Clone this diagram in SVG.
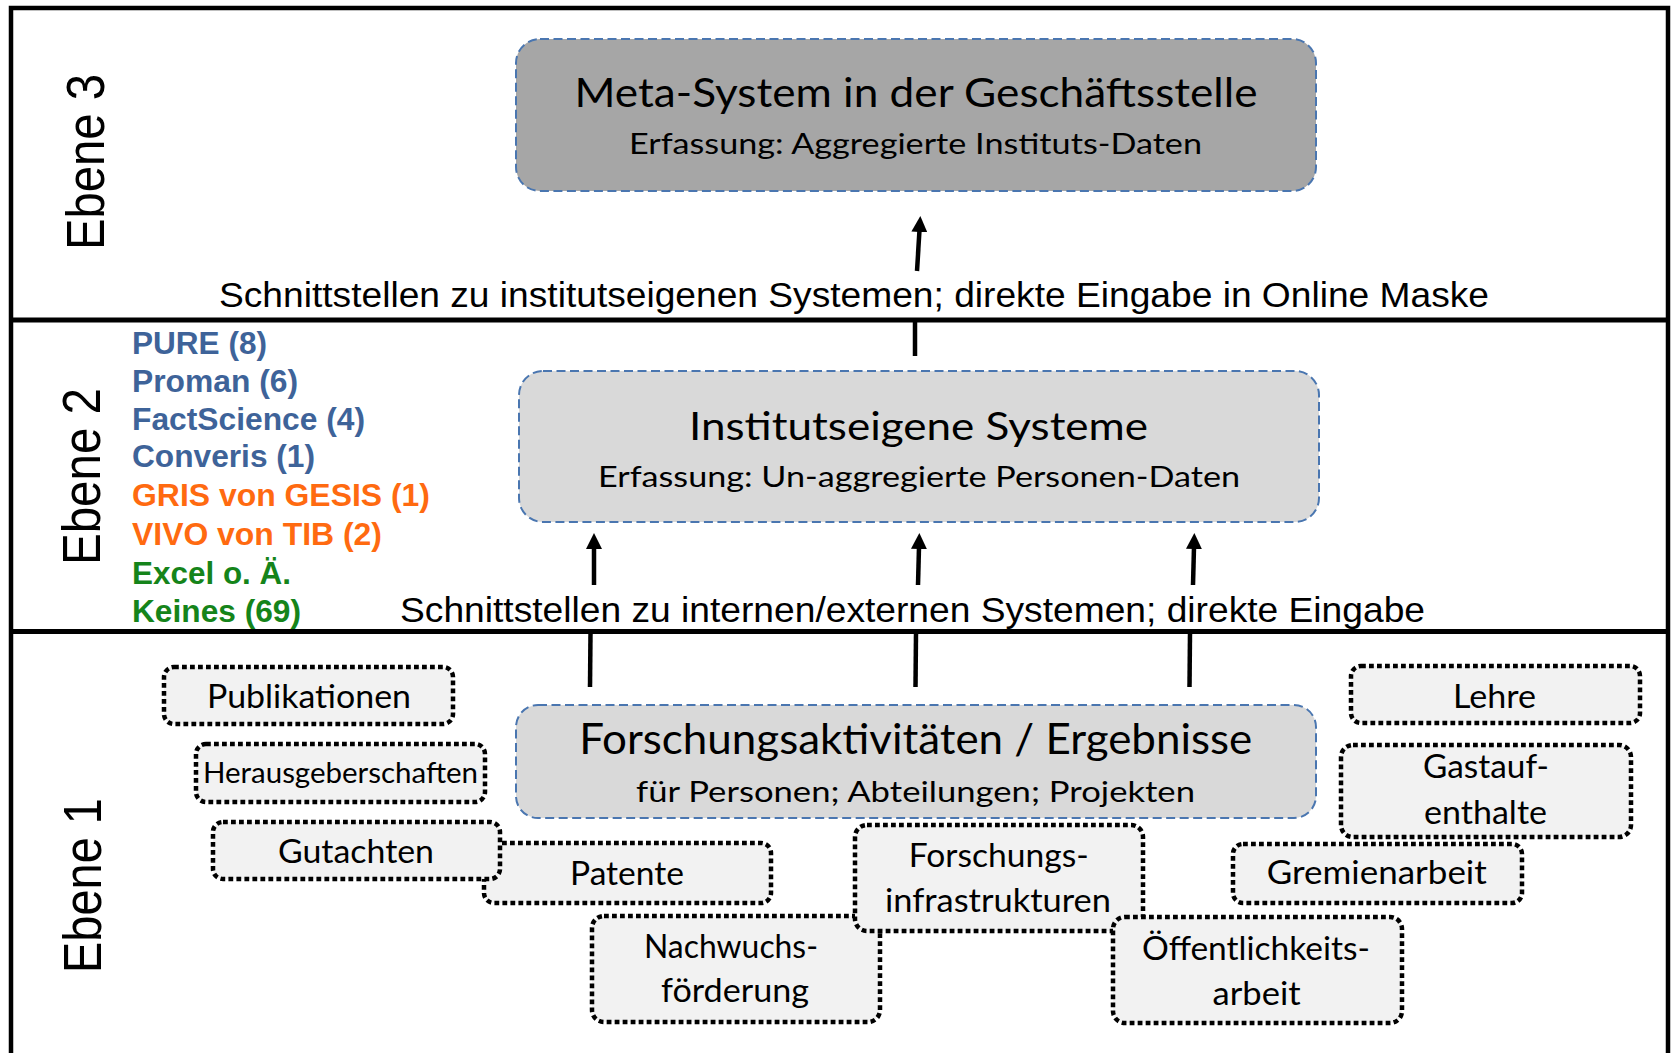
<svg xmlns="http://www.w3.org/2000/svg" width="1671" height="1053" viewBox="0 0 1671 1053">
<defs>
<style>
.frame{fill:none;stroke:#000;stroke-width:4.5}
.div{stroke:#000;stroke-width:5}
.sys{stroke:#4a76b0;stroke-width:2;stroke-dasharray:9 4.5}
.dot{fill:#f2f2f2;stroke:#000;stroke-width:4.5;stroke-dasharray:4.8 3.2}
.cal{font-family:Lato,"Open Sans",sans-serif;fill:#000;text-anchor:middle}
.ar{font-family:"Liberation Sans",Arial,sans-serif;fill:#000}
.lvl{font-family:"Liberation Sans",Arial,sans-serif;fill:#000;font-size:54px}
.lst{font-family:"Liberation Sans",Arial,sans-serif;font-weight:bold;font-size:31px}
.blue{fill:#3e6399}.orange{fill:#ff6a10}.green{fill:#15841a}
.conn{stroke:#000;stroke-width:4.5;fill:none}
.box{font-size:33px}
</style>
<marker id="ah" viewBox="0 0 16 16" refX="2" refY="8" markerWidth="16" markerHeight="16" markerUnits="userSpaceOnUse" orient="auto">
<path d="M0,0 L16,8 L0,16 z" fill="#000"/>
</marker>
</defs>
<rect width="1671" height="1053" fill="#fff"/>

<g id="frame">
<path class="frame" d="M11,1053 V8 H1668 V1053"/>
<line class="div" x1="11" y1="320" x2="1668" y2="320"/>
<line class="div" x1="11" y1="631.5" x2="1668" y2="631.5"/>
</g>

<g id="levels">
<text class="lvl" transform="translate(104,250) rotate(-90)" textLength="176" lengthAdjust="spacingAndGlyphs">Ebene 3</text>
<text class="lvl" transform="translate(99.5,565) rotate(-90)" textLength="177" lengthAdjust="spacingAndGlyphs">Ebene 2</text>
<text class="lvl" transform="translate(100.5,973) rotate(-90)" textLength="175" lengthAdjust="spacingAndGlyphs">Ebene 1</text>
</g>

<g id="connectors">
<line class="conn" x1="915" y1="356" x2="915" y2="322"/>
<line class="conn" x1="917" y1="271" x2="919.5" y2="230" marker-end="url(#ah)"/>
<line class="conn" x1="590" y1="687" x2="590.5" y2="633"/>
<line class="conn" x1="594" y1="585" x2="594" y2="547" marker-end="url(#ah)"/>
<line class="conn" x1="915.5" y1="687" x2="916" y2="633"/>
<line class="conn" x1="918" y1="585" x2="919" y2="547" marker-end="url(#ah)"/>
<line class="conn" x1="1189.5" y1="687" x2="1190" y2="633"/>
<line class="conn" x1="1193" y1="585" x2="1194" y2="547" marker-end="url(#ah)"/>
</g>

<g id="label-ebene3">
<text class="ar" x="219" y="307" font-size="35" textLength="1270" lengthAdjust="spacingAndGlyphs">Schnittstellen zu institutseigenen Systemen; direkte Eingabe in Online Maske</text>
</g>
<g id="label-ebene2">
<text class="ar" x="400" y="622" font-size="35" textLength="1025" lengthAdjust="spacingAndGlyphs">Schnittstellen zu internen/externen Systemen; direkte Eingabe</text>
</g>

<g id="meta-system">
<rect class="sys" x="516" y="39" width="800" height="152" rx="24" fill="#a6a6a6"/>
<text class="cal" x="916" y="107" font-size="40" textLength="683" lengthAdjust="spacingAndGlyphs">Meta-System in der Geschäftsstelle</text>
<text class="cal" x="915.5" y="154" font-size="28.5" textLength="573" lengthAdjust="spacingAndGlyphs">Erfassung: Aggregierte Instituts-Daten</text>
</g>

<g id="institutseigene-systeme">
<rect class="sys" x="519" y="371" width="800" height="151" rx="24" fill="#d9d9d9"/>
<text class="cal" x="918.5" y="440" font-size="39" textLength="459" lengthAdjust="spacingAndGlyphs">Institutseigene Systeme</text>
<text class="cal" x="919" y="487" font-size="28.5" textLength="642" lengthAdjust="spacingAndGlyphs">Erfassung: Un-aggregierte Personen-Daten</text>
</g>

<g id="system-list">
<text class="lst blue" x="132" y="354" textLength="135" lengthAdjust="spacingAndGlyphs">PURE (8)</text>
<text class="lst blue" x="132" y="392" textLength="166" lengthAdjust="spacingAndGlyphs">Proman (6)</text>
<text class="lst blue" x="132" y="429.5" textLength="233" lengthAdjust="spacingAndGlyphs">FactScience (4)</text>
<text class="lst blue" x="132" y="467" textLength="183" lengthAdjust="spacingAndGlyphs">Converis (1)</text>
<text class="lst orange" x="132" y="506" textLength="298" lengthAdjust="spacingAndGlyphs">GRIS von GESIS (1)</text>
<text class="lst orange" x="132" y="545" textLength="250" lengthAdjust="spacingAndGlyphs">VIVO von TIB (2)</text>
<text class="lst green" x="132" y="584" textLength="159" lengthAdjust="spacingAndGlyphs">Excel o. Ä.</text>
<text class="lst green" x="132" y="622" textLength="169" lengthAdjust="spacingAndGlyphs">Keines (69)</text>
</g>

<g id="forschungsaktivitaeten">
<rect class="sys" x="516" y="705" width="800" height="113" rx="22" fill="#d9d9d9"/>
<text class="cal" x="915.7" y="754" font-size="43" textLength="673" lengthAdjust="spacingAndGlyphs">Forschungsaktivitäten / Ergebnisse</text>
<text class="cal" x="915.5" y="802" font-size="29.5" textLength="559" lengthAdjust="spacingAndGlyphs">für Personen; Abteilungen; Projekten</text>
</g>

<g id="publikationen">
<rect class="dot" x="164" y="667" width="289" height="57" rx="10"/>
<text class="cal box" x="309" y="708" textLength="204" lengthAdjust="spacingAndGlyphs">Publikationen</text>
</g>
<g id="herausgeberschaften">
<rect class="dot" x="196" y="744" width="289" height="58" rx="10"/>
<text class="cal" x="340.5" y="783" font-size="29" textLength="275" lengthAdjust="spacingAndGlyphs">Herausgeberschaften</text>
</g>
<g id="patente">
<rect class="dot" x="484" y="843" width="287" height="60" rx="10"/>
<text class="cal box" x="627" y="885" textLength="114" lengthAdjust="spacingAndGlyphs">Patente</text>
</g>
<g id="gutachten">
<rect class="dot" x="213" y="822" width="287" height="57" rx="10"/>
<text class="cal box" x="356" y="863" textLength="156" lengthAdjust="spacingAndGlyphs">Gutachten</text>
</g>
<g id="nachwuchsfoerderung">
<rect class="dot" x="592" y="916" width="288" height="106" rx="12"/>
<text class="cal box" x="731" y="958" textLength="174" lengthAdjust="spacingAndGlyphs">Nachwuchs-</text>
<text class="cal box" x="735" y="1002" textLength="148" lengthAdjust="spacingAndGlyphs">förderung</text>
</g>
<g id="forschungsinfrastrukturen">
<rect class="dot" x="855" y="825" width="288" height="106" rx="12"/>
<text class="cal box" x="998.7" y="867" textLength="180" lengthAdjust="spacingAndGlyphs">Forschungs-</text>
<text class="cal box" x="998" y="912" textLength="226" lengthAdjust="spacingAndGlyphs">infrastrukturen</text>
</g>
<g id="oeffentlichkeitsarbeit">
<rect class="dot" x="1113" y="917" width="289" height="106" rx="12"/>
<text class="cal box" x="1256" y="960" textLength="228" lengthAdjust="spacingAndGlyphs">Öffentlichkeits-</text>
<text class="cal box" x="1256.6" y="1005" textLength="88" lengthAdjust="spacingAndGlyphs">arbeit</text>
</g>
<g id="gremienarbeit">
<rect class="dot" x="1233" y="844" width="289" height="59" rx="10"/>
<text class="cal box" x="1376.8" y="884" textLength="220" lengthAdjust="spacingAndGlyphs">Gremienarbeit</text>
</g>
<g id="gastaufenthalte">
<rect class="dot" x="1341" y="745" width="290" height="92" rx="12"/>
<text class="cal box" x="1486" y="778" textLength="126" lengthAdjust="spacingAndGlyphs">Gastauf-</text>
<text class="cal box" x="1485.5" y="824" textLength="123" lengthAdjust="spacingAndGlyphs">enthalte</text>
</g>
<g id="lehre">
<rect class="dot" x="1351" y="666" width="289" height="57" rx="10"/>
<text class="cal box" x="1494.5" y="708" textLength="83" lengthAdjust="spacingAndGlyphs">Lehre</text>
</g>
</svg>
